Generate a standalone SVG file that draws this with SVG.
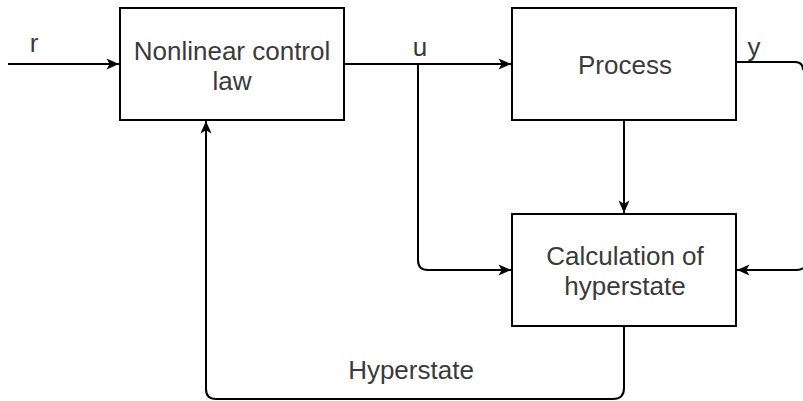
<svg xmlns="http://www.w3.org/2000/svg" width="803" height="401" viewBox="0 0 803 401">
<defs>
<marker id="arr" viewBox="0 0 14 14" refX="13.5" refY="7" markerWidth="14" markerHeight="14" markerUnits="userSpaceOnUse" orient="auto">
<path d="M1,1.5 L13.5,7 L1,12.5 L4.2,7 Z" fill="#000"/>
</marker>
</defs>
<style>
.box{fill:#fff;stroke:#000;stroke-width:2}
.edge{fill:none;stroke:#000;stroke-width:2}
.t{font-family:"Liberation Sans",Arial,sans-serif;font-size:26px;fill:#3a3a3a;text-anchor:middle}
</style>
<rect width="803" height="401" fill="#fff"/>
<g id="connectors">
<path class="edge" d="M8,64 H119" marker-end="url(#arr)"/>
<path class="edge" d="M344,64 H511" marker-end="url(#arr)"/>
<path class="edge" d="M418,64 V260 Q418,270 428,270 H511" marker-end="url(#arr)"/>
<path class="edge" d="M624,120 V213" marker-end="url(#arr)"/>
<path class="edge" d="M736,62 H795 Q803,62 803,70"/>
<path class="edge" d="M803,268 Q801,270 797,270 H737" marker-end="url(#arr)"/>
<path class="edge" d="M624,326 V388 Q624,399 613,399 H216 Q206,399 206,389 V121" marker-end="url(#arr)"/>
</g>
<g id="label-r"><text class="t" x="34" y="52">r</text></g>
<g id="label-u"><text class="t" x="420" y="56">u</text></g>
<g id="label-y"><text class="t" x="754" y="56">y</text></g>
<g id="label-hyperstate"><text class="t" x="411" y="379">Hyperstate</text></g>
<g id="node-control">
<rect class="box" x="120" y="8" width="224" height="112"/>
<text class="t" x="232" y="60">Nonlinear control</text>
<text class="t" x="232" y="90">law</text>
</g>
<g id="node-process">
<rect class="box" x="512" y="8" width="224" height="112"/>
<text class="t" x="625" y="74">Process</text>
</g>
<g id="node-hyperstate">
<rect class="box" x="512" y="214" width="224" height="112"/>
<text class="t" x="625" y="265">Calculation of</text>
<text class="t" x="625" y="295">hyperstate</text>
</g>
</svg>
